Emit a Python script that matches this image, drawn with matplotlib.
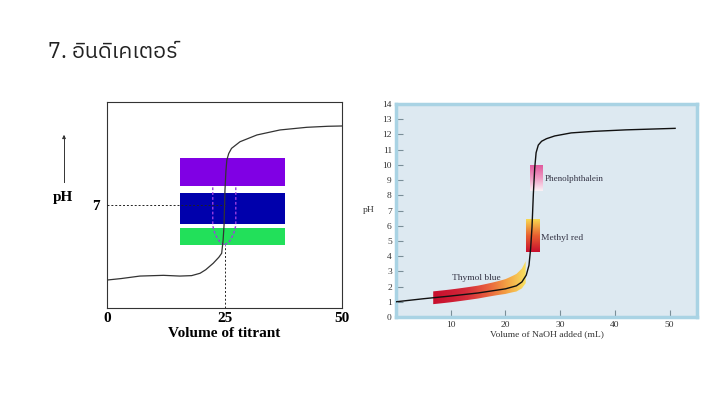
import matplotlib
matplotlib.use("Agg")
import matplotlib.pyplot as plt
import numpy as np
from matplotlib import font_manager
from matplotlib.colors import LinearSegmentedColormap
from matplotlib.patches import Rectangle, Polygon

# ---- data ----
title = "7. อินดิเคเตอร์"

# left sketch: titration curve (arbitrary pH scale 0-14)
left_x = [0, 3, 7, 12, 15.5, 18, 19.8, 21, 22.6, 23.8, 24.4, 24.7, 24.9, 25.1,
          25.3, 25.5, 25.9, 26.5, 28.3, 31.9, 36.8, 42.5, 47, 50]
left_ph = [1.9, 2.0, 2.17, 2.22, 2.17, 2.2, 2.36, 2.6, 3.04, 3.45, 3.72, 4.6, 5.6, 8.0,
           9.3, 10.06, 10.5, 10.85, 11.3, 11.76, 12.1, 12.28, 12.35, 12.37]
bar_x = (15.5, 37.9)
bar_ranges = [(8.29, 10.17), (5.69, 7.8), (4.28, 5.42)]
bar_colors = ["#8000e4", "#0000ac", "#22e05a"]
left_xticks = [0, 25, 50]
left_xticklabels = ["0", "25", "50"]

# right: NaOH titration curve
naoh_ml = [0, 5, 10, 15, 20, 22, 23, 23.8, 24.3, 24.6, 24.85, 25.1, 25.35, 25.6,
           26.0, 26.6, 27.5, 29, 32, 36, 42, 51]
naoh_ph = [1.0, 1.2, 1.38, 1.58, 1.85, 2.05, 2.3, 2.75, 3.4, 4.5, 5.9, 8.1, 9.8, 10.8,
           11.3, 11.55, 11.72, 11.9, 12.1, 12.2, 12.3, 12.4]
thymol_range = (6.8, 23.7)
methyl_box = (23.7, 26.1, 4.24, 6.37)
phenol_box = (24.4, 26.6, 8.3, 10.0)
right_yticks = list(range(0, 15))
right_xticks = [10, 20, 30, 40, 50]

serif = "Liberation Serif"
thai = [f.name for f in font_manager.fontManager.ttflist if "Thai" in f.name]
title_family = thai[:1] + ["Noto Sans", "DejaVu Sans"]

fig = plt.figure(figsize=(7.2, 4.04), dpi=100)
fig.patch.set_facecolor("white")

fig.text(48 / 720, 1 - 52 / 404, title, fontsize=15.5, va="center", ha="left",
         family=title_family, color="#222222")

# ---------------- left panel ----------------
ax1 = fig.add_axes([107 / 720, 1 - 308 / 404, 235 / 720, 206 / 404])
ax1.set_xlim(0, 50)
ax1.set_ylim(0, 14)
for (lo, hi), c in zip(bar_ranges, bar_colors):
    ax1.add_patch(Rectangle((bar_x[0], lo), bar_x[1] - bar_x[0], hi - lo,
                            facecolor=c, edgecolor="none", zorder=1))
# dashed guides
ax1.plot([0, 25], [7, 7], ls=(0, (2, 2)), color="#222222", lw=0.7, zorder=3)
ax1.plot([25, 25], [0, 4.28], ls=(0, (2, 2)), color="#222222", lw=0.7, zorder=3)
ax1.plot([22.5, 22.5, 23.0, 24.0, 25.0], [8.2, 5.6, 5.0, 4.5, 4.28],
         ls=(0, (2, 1.5)), color="#9a3ee0", lw=1.0, zorder=3)
ax1.plot([27.4, 27.4, 26.9, 26.0, 25.0], [8.2, 5.6, 5.0, 4.5, 4.28],
         ls=(0, (2, 1.5)), color="#9a3ee0", lw=1.0, zorder=3)
ax1.plot(left_x, left_ph, color="#333333", lw=0.9, zorder=4)
ax1.set_xticks(left_xticks)
ax1.set_xticklabels(left_xticklabels, fontsize=11, fontweight="bold", family=serif)
ax1.set_yticks([7])
ax1.set_yticklabels(["7"], fontsize=11, fontweight="bold", family=serif)
ax1.tick_params(length=0, pad=3)
ax1.tick_params(axis="y", pad=5)
for s in ax1.spines.values():
    s.set_linewidth(0.8)
    s.set_color("#333333")
ax1.set_xlabel("Volume of titrant", fontsize=11, fontweight="bold", family=serif,
               labelpad=1)

fig.text(63 / 720, 1 - 198 / 404, "pH", fontsize=11, fontweight="bold", family=serif,
         ha="center", va="center")
fig.add_artist(plt.Line2D([64 / 720, 64 / 720], [1 - 182 / 404, 1 - 136 / 404],
                          color="#333333", lw=0.7))
ax1.annotate("", xy=(64 / 720, 1 - 132 / 404), xytext=(64 / 720, 1 - 140 / 404),
             xycoords="figure fraction",
             arrowprops=dict(arrowstyle="-|>", color="#333333", lw=0.7,
                             mutation_scale=5))

# ---------------- right panel ----------------
ax2 = fig.add_axes([396 / 720, 1 - 317 / 404, 301 / 720, 213 / 404])
ax2.set_facecolor("#dde9f1")
for s in ax2.spines.values():
    s.set_color("#a9d3e4")
    s.set_linewidth(2.5)

# thymol blue band: polygon following the curve, filled with a gradient
tx = np.array(naoh_ml, dtype=float)
tp = np.array(naoh_ph, dtype=float)
bx = np.linspace(thymol_range[0], thymol_range[1], 120)
t = np.linspace(0, 1, len(bx))
bp = np.interp(bx, tx, tp) + t ** 2 * 0.25
half = 0.42 + 0.3 * t ** 6
poly_xy = np.vstack([np.column_stack([bx, bp + half]),
                     np.column_stack([bx[::-1], (bp - half)[::-1]])])
band_poly = Polygon(poly_xy, closed=True, facecolor="none", edgecolor="none")
ax2.add_patch(band_poly)
band_cmap = LinearSegmentedColormap.from_list(
    "band", ["#c8102e", "#d42a3a", "#e8603e", "#f4a444", "#f8e060"])
hgrad = np.linspace(0, 1, 256).reshape(1, -1) ** 1.3
im = ax2.imshow(hgrad, extent=[thymol_range[0], thymol_range[1], 0, 4],
                cmap=band_cmap, aspect="auto", zorder=2)
im.set_clip_path(band_poly)

# gradient boxes
grad = np.linspace(0, 1, 64).reshape(-1, 1)
mr_cmap = LinearSegmentedColormap.from_list("mr", ["#c8102e", "#e86030", "#f8d850"])
ax2.imshow(grad, extent=[methyl_box[0], methyl_box[1], methyl_box[2], methyl_box[3]],
           origin="lower", cmap=mr_cmap, aspect="auto", zorder=2)
ph_cmap = LinearSegmentedColormap.from_list("ph", ["#fbf2f6", "#ef9cc4", "#e05a9e"])
ax2.imshow(grad, extent=[phenol_box[0], phenol_box[1], phenol_box[2], phenol_box[3]],
           origin="lower", cmap=ph_cmap, aspect="auto", zorder=2)
ax2.set_xlim(0, 55)
ax2.set_ylim(0, 14)

ax2.plot(naoh_ml, naoh_ph, color="#111111", lw=1.0, zorder=4)

ax2.text(27.1, 9.05, "Phenolphthalein", fontsize=6.5, family=serif,
         color="#333344", va="center")
ax2.text(26.5, 5.2, "Methyl red", fontsize=6.8, family=serif, color="#333344",
         va="center")
ax2.text(10.2, 2.55, "Thymol blue", fontsize=6.8, family=serif, color="#333344",
         va="center")

ax2.set_yticks(right_yticks)
ax2.set_xticks(right_xticks)
ax2.tick_params(direction="in", length=5, width=0.8, color="#7a8e98",
                labelsize=6.8, labelcolor="#333333", pad=3)
for lab in ax2.get_xticklabels() + ax2.get_yticklabels():
    lab.set_family(serif)
ax2.set_xlabel("Volume of NaOH added (mL)", fontsize=6.8, family=serif,
               color="#333333", labelpad=1)
ax2.set_ylabel("pH", fontsize=6.8, family=serif, color="#333333", rotation=0,
               labelpad=10, va="center")

fig.savefig("out.png", dpi=100, facecolor="white")
